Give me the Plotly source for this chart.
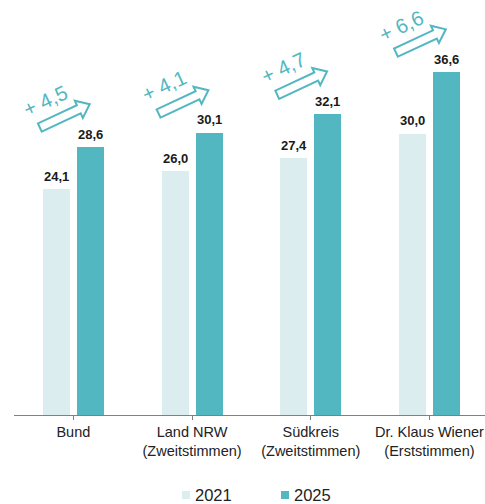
import numpy as np
import plotly.graph_objects as go

categories = ["Bund", "Land NRW<br>(Zweitstimmen)", "Südkreis<br>(Zweitstimmen)", "Dr. Klaus Wiener<br>(Erststimmen)"]
values_2021 = [24.1, 26.0, 27.4, 30.0]
values_2025 = [28.6, 30.1, 32.1, 36.6]
series_names = ["2021", "2025"]

C21 = "#dcedf0"
C25 = "#53b7c1"
FONT = "Liberation Sans, Arial, sans-serif"

W, H = 485, 504
ML, MB = 14, 89
CAT_PX = 118.7
plot_w = W - ML
plot_h = H - MB
x_max = -0.5 + plot_w / CAT_PX
PX_PER_UNIT = 9.37
y_max = plot_h / PX_PER_UNIT

bw = 27 / CAT_PX
off = 17 / CAT_PX

def fmt(v):
    return f"{v:.1f}".replace(".", ",")

def px_x(px):
    return (px - ML) / plot_w

def px_y(py):
    return (plot_h - py) / plot_h

fig = go.Figure()
fig.add_trace(go.Bar(x=list(range(len(categories))), y=values_2021, name=series_names[0],
                     marker=dict(color=C21, line=dict(width=0)), width=bw, offset=-off - bw / 2,
                     showlegend=False))
fig.add_trace(go.Bar(x=list(range(len(categories))), y=values_2025, name=series_names[1],
                     marker=dict(color=C25, line=dict(width=0)), width=bw, offset=off - bw / 2,
                     showlegend=False))

annotations = []
shapes = []

# arrow polygon in pixel coordinates relative to top of the 2025 bar
ang = np.deg2rad(25)
L, hl, ht, st = 55, 12, 9.5, 4.5
local = [(0, -st), (L - hl, -st), (L - hl, -ht), (L, 0), (L - hl, ht), (L - hl, st), (0, st)]
tail = (-50.5, 19.5)
pts = [(tail[0] + u * np.cos(ang) - v * np.sin(ang), tail[1] + u * np.sin(ang) + v * np.cos(ang)) for u, v in local]
path = "M" + " L".join(f"{px:.2f},{py:.2f}" for px, py in pts) + " Z"

for i, (a, b) in enumerate(zip(values_2021, values_2025)):
    annotations.append(dict(x=i - off, y=a, xref="x", yref="y", text=f"<b>{fmt(a)}</b>", showarrow=False,
                            yshift=13, font=dict(size=13, color="#1a1a1a", family=FONT)))
    annotations.append(dict(x=i + off, y=b, xref="x", yref="y", text=f"<b>{fmt(b)}</b>", showarrow=False,
                            yshift=13, font=dict(size=13, color="#1a1a1a", family=FONT)))
    shapes.append(dict(type="path", xref="x", yref="y", xsizemode="pixel", ysizemode="pixel",
                       xanchor=i + off, yanchor=b, path=path,
                       line=dict(color=C25, width=2), fillcolor="white", layer="above"))
    annotations.append(dict(x=i + off, y=b, xref="x", yref="y", text="+ " + fmt(b - a), showarrow=False,
                            xshift=-45, yshift=47, textangle=-25,
                            font=dict(size=20.5, color=C25, family=FONT)))

# custom legend (small squares next to the labels)
LEG_Y = 495
legend_items = [(series_names[0], C21, 182), (series_names[1], C25, 281)]
for name, col, sx in legend_items:
    shapes.append(dict(type="rect", xref="paper", yref="paper",
                       x0=px_x(sx), x1=px_x(sx + 8), y0=px_y(LEG_Y + 4), y1=px_y(LEG_Y - 4),
                       fillcolor=col, line=dict(width=0)))
    annotations.append(dict(x=px_x(sx + 11), y=px_y(LEG_Y), xref="paper", yref="paper",
                            xanchor="left", yanchor="middle", text=name, showarrow=False,
                            font=dict(size=16.5, color="#222", family=FONT)))

fig.update_layout(
    width=W, height=H,
    margin=dict(l=ML, r=0, t=0, b=MB, pad=0),
    paper_bgcolor="white", plot_bgcolor="white",
    font=dict(family=FONT, color="#222"),
    showlegend=False,
    xaxis=dict(range=[-0.5, x_max], tickmode="array", tickvals=list(range(len(categories))),
               ticktext=categories, showline=True, linecolor="#808080", linewidth=1,
               ticks="outside", ticklen=4, tickcolor="#808080", showgrid=False, zeroline=False,
               automargin=False,
               tickfont=dict(size=14.5, color="#222", family=FONT)),
    yaxis=dict(range=[0, y_max], visible=False, showgrid=False, zeroline=False),
    annotations=annotations, shapes=shapes,
    bargap=0,
)
fig.write_html("out.html", config={"displayModeBar": False})
